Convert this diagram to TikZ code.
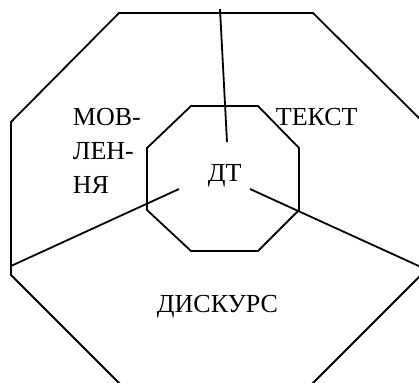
\documentclass[tikz,border=0pt]{standalone}
\usepackage{fontspec}
\setmainfont{Liberation Serif}
\usetikzlibrary{positioning}

\begin{document}
\begin{tikzpicture}[x=1pt,y=-1pt,line width=1.8pt,
    lbl/.style={font=\fontsize{26}{34}\selectfont,inner sep=0pt}]
  \useasboundingbox (0,0) rectangle (419,382);
  \clip (0,0) rectangle (419,382);
  % outer octagon: discourse
  \draw (119,13) -- (313,13) -- (421,120) -- (421,275) -- (312,384)
        -- (120,384) -- (11,275) -- (11,122) -- cycle;
  % inner octagon: DT
  \draw (191,106) -- (258,106) -- (299,148) -- (299,210) -- (258,251)
        -- (191,251) -- (147,210) -- (147,148) -- cycle;
  % dividing lines
  \coordinate (topout) at (220,9);
  \coordinate (topin) at (227,142);
  \coordinate (leftout) at (11,266);
  \coordinate (leftin) at (179,189);
  \coordinate (rightout) at (421,267);
  \coordinate (rightin) at (250,189);
  \draw (topout) -- (topin);
  \draw (leftout) -- (leftin);
  \draw (rightout) -- (rightin);
  % labels
  \node[lbl,align=left,anchor=north west] (mov) at (72,107) {МОВ-\\ЛЕН-\\НЯ};
  \node[lbl,anchor=base west] (tekst) at (275,125) {ТЕКСТ};
  \node[lbl,anchor=base west] (dt) at (207,181) {ДТ};
  \node[lbl,anchor=base west] (dysk) at (156,312) {ДИСКУРС};
\end{tikzpicture}
\end{document}
